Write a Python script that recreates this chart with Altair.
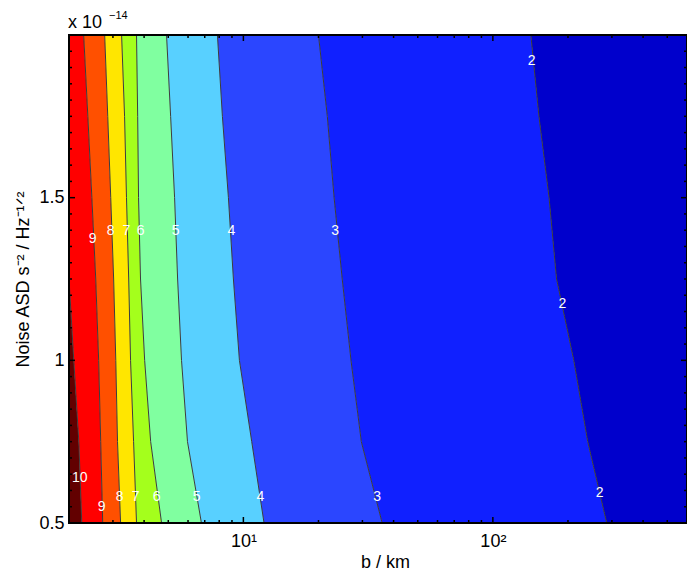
import altair as alt
import pandas as pd

# ---- data (x in km, y in units of 1e-14) ----
y_rows = [0.5, 0.75, 1.0, 1.25, 1.5, 1.75, 2.0]
c10 = [2.25, 2.19, 2.09, 2.0, 2.0, 2.0, 2.0]
c9 = [2.73, 2.68, 2.63, 2.56, 2.47, 2.38, 2.29]
c8 = [3.22, 3.13, 3.08, 3.02, 2.94, 2.86, 2.78]
c7 = [3.73, 3.63, 3.53, 3.47, 3.40, 3.34, 3.25]
c6 = [4.70, 4.25, 4.02, 3.87, 3.80, 3.77, 3.73]
c5 = [6.79, 5.97, 5.65, 5.45, 5.30, 5.11, 4.92]
c4 = [12.1, 10.8, 9.64, 9.12, 8.71, 8.24, 7.87]
c3 = [36.0, 29.7, 27.0, 24.9, 23.1, 21.7, 20.0]
c2 = [286, 240, 211, 180, 168, 153, 142]
levels = [10, 9, 8, 7, 6, 5, 4, 3, 2]
contours = [c10, c9, c8, c7, c6, c5, c4, c3, c2]

x_min, x_max = 2, 600
y_min, y_max = 0.5, 2.0

band_names = [">10", "9-10", "8-9", "7-8", "6-7", "5-6", "4-5", "3-4", "2-3", "<2"]
band_colors = ["#620000", "#ff0000", "#ff5000", "#ffe600", "#a4ff1c",
               "#80ffa0", "#58d0ff", "#2b46ff", "#1020ff", "#0000cc"]

label_text = ["10", "9", "9", "8", "8", "7", "7", "6", "6", "5", "5",
              "4", "4", "3", "3", "2", "2", "2"]
label_x = [2.21, 2.70, 2.49, 3.19, 2.94, 3.70, 3.40, 4.49, 3.87, 6.49, 5.35,
           11.7, 8.95, 34.4, 23.3, 268, 190, 143]
label_y = [0.639, 0.549, 1.373, 0.580, 1.398, 0.580, 1.398, 0.580, 1.398,
           0.580, 1.398, 0.580, 1.398, 0.580, 1.398, 0.593, 1.173, 1.920]

x_major_ticks = [10, 100]
x_minor_ticks = [3, 4, 5, 6, 7, 8, 9, 20, 30, 40, 50, 60, 70, 80, 90,
                 200, 300, 400, 500]
y_major_ticks = [0.5, 1.0, 1.5]
y_minor_ticks = [0.55, 0.6, 0.65, 0.7, 0.75, 0.8, 0.85, 0.9, 0.95,
                 1.05, 1.1, 1.15, 1.2, 1.25, 1.3, 1.35, 1.4, 1.45,
                 1.55, 1.6, 1.65, 1.7, 1.75, 1.8, 1.85, 1.9, 1.95]

W, H = 618, 488
FONT = "Liberation Sans"

xscale = alt.Scale(type="log", domain=[x_min, x_max], nice=False)
yscale = alt.Scale(domain=[y_min, y_max], nice=False, zero=False)

x_axis = alt.Axis(values=x_major_ticks, ticks=False, domain=False, grid=False,
                  labelExpr="datum.value == 10 ? '10\u00b9' : '10\u00b2'",
                  labelFontSize=18, labelPadding=9, labelColor="black",
                  title="b / km", titleFontSize=18, titleFontWeight="normal",
                  titlePadding=3, titleX=316, titleColor="black")
y_axis = alt.Axis(values=y_major_ticks, ticks=False, domain=False, grid=False,
                  labelExpr="datum.value == 0.5 ? '0.5' : datum.value == 1 ? '1' : '1.5'",
                  labelFontSize=18, labelPadding=5, labelColor="black",
                  title="Noise ASD s\u207b\u00b2 / Hz\u207b\u00b9\u141f\u00b2",
                  titleFontSize=18, titleFontWeight="normal", titlePadding=6,
                  titleColor="black")


def X(field):
    return alt.X(field, scale=xscale, stack=None, axis=x_axis)


def Y(field):
    return alt.Y(field, scale=yscale, axis=y_axis)


# ---- filled bands between successive contours ----
bounds = [[x_min] * len(y_rows)] + contours + [[x_max] * len(y_rows)]
band_layers = []
for i, (name, col) in enumerate(zip(band_names, band_colors)):
    d = pd.DataFrame({"y": y_rows, "xl": bounds[i], "xr": bounds[i + 1]})
    band_layers.append(
        alt.Chart(d).mark_area(orient="horizontal", clip=True, color=col).encode(
            x=X("xl:Q"), x2="xr:Q", y=Y("y:Q")))

line_rows = []
for lev, c in zip(levels, contours):
    for j, yv in enumerate(y_rows):
        line_rows.append({"level": lev, "y": yv, "x": c[j]})
df_lines = pd.DataFrame(line_rows)

lines = alt.Chart(df_lines).mark_line(color="#3c3c3c", strokeWidth=1, clip=True).encode(
    x=X("x:Q"), y=Y("y:Q"), detail="level:N", order=alt.Order("y:Q"))

df_labels = pd.DataFrame({"t": label_text, "x": label_x, "y": label_y})
labels = alt.Chart(df_labels).mark_text(color="white", fontSize=14, font=FONT).encode(
    x=X("x:Q"), y=Y("y:Q"), text="t:N")


def xticks(vals, length):
    d = pd.DataFrame({"x": vals})
    b = alt.Chart(d).mark_rule(color="black", strokeWidth=1.5).encode(
        x=X("x:Q"), y=alt.value(H), y2=alt.value(H - length))
    t = alt.Chart(d).mark_rule(color="black", strokeWidth=1.5).encode(
        x=X("x:Q"), y=alt.value(0), y2=alt.value(length))
    return [b, t]


def yticks(vals, length):
    d = pd.DataFrame({"y": vals})
    l = alt.Chart(d).mark_rule(color="black", strokeWidth=1.5).encode(
        y=Y("y:Q"), x=alt.value(0), x2=alt.value(length))
    r = alt.Chart(d).mark_rule(color="black", strokeWidth=1.5).encode(
        y=Y("y:Q"), x=alt.value(W), x2=alt.value(W - length))
    return [l, r]


one = pd.DataFrame({"a": [0]})
border = alt.Chart(one).mark_rect(fillOpacity=0, stroke="black", strokeWidth=2).encode(
    x=alt.value(0), x2=alt.value(W), y=alt.value(0), y2=alt.value(H))

exp_base = alt.Chart(one).mark_text(text="x 10", fontSize=18, font=FONT, align="left",
                                    baseline="alphabetic", color="black").encode(
    x=alt.value(-1), y=alt.value(-7))
exp_sup = alt.Chart(one).mark_text(text="\u221214", fontSize=11, font=FONT, align="left",
                                   baseline="alphabetic", color="black").encode(
    x=alt.value(40), y=alt.value(-16))

layers = band_layers + [lines, labels] + xticks(x_minor_ticks, 3) + xticks(x_major_ticks, 6) \
    + yticks(y_minor_ticks, 3) + yticks(y_major_ticks, 6) + [border, exp_base, exp_sup]

chart = alt.layer(*layers).properties(
    width=W, height=H,
    autosize=alt.AutoSizeParams(type="none"),
    padding={"left": 61, "top": 27, "right": 0, "bottom": 50},
).configure(font=FONT).configure_view(strokeWidth=0)

chart.save("out.html", embed_options={"renderer": "svg", "actions": False})
